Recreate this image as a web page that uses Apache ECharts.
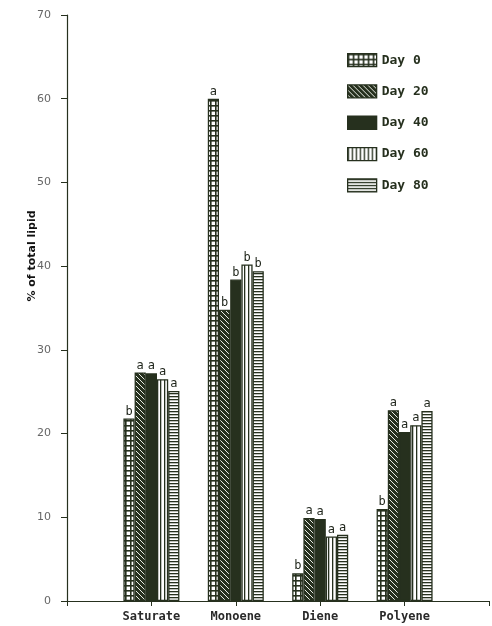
<!DOCTYPE html>
<html>
<head>
<meta charset="utf-8">
<script src="https://cdn.jsdelivr.net/npm/echarts@6/dist/echarts.min.js"></script>
<style>
  html, body { margin: 0; padding: 0; background: #fff; }
  #chart { width: 492px; height: 626px; }
</style>
</head>
<body>
<div id="chart"></div>
<script>
// Fatty acid classes (x categories)
const categories = ['Saturate', 'Monoene', 'Diene', 'Polyene'];
const dayNames = ['Day 0', 'Day 20', 'Day 40', 'Day 60', 'Day 80'];

// % of total lipid per class, one array per sampling day
const day0  = [21.8, 60.0, 3.3, 11.0];
const day20 = [27.3, 34.8, 9.9, 22.8];
const day40 = [27.2, 38.4, 9.8, 20.2];
const day60 = [26.5, 40.2, 7.7, 21.0];
const day80 = [25.1, 39.4, 7.9, 22.7];

// Significance letters above each bar
const let0  = ['b', 'a', 'b', 'b'];
const let20 = ['a', 'b', 'a', 'a'];
const let40 = ['a', 'b', 'a', 'a'];
const let60 = ['a', 'b', 'a', 'a'];
const let80 = ['a', 'b', 'a', 'a'];

const yTicks = [0, 10, 20, 30, 40, 50, 60, 70];

const INK = '#26301e';

// Fill patterns drawn onto small canvases
function tile(w, h, draw) {
  const c = document.createElement('canvas');
  c.width = w; c.height = h;
  const g = c.getContext('2d');
  draw(g, w, h);
  return { image: c, repeat: 'repeat' };
}
const patGrid = tile(5, 5, (g, w, h) => {
  g.fillStyle = '#fff'; g.fillRect(0, 0, w, h);
  g.fillStyle = INK; g.fillRect(0, 0, w, 1.6); g.fillRect(0, 0, 1.6, h);
});
const patHatch = tile(5, 5, (g, w, h) => {
  g.fillStyle = INK; g.fillRect(0, 0, w, h);
  g.strokeStyle = '#e8ece4'; g.lineWidth = 1;
  g.beginPath();
  g.moveTo(-1, -1); g.lineTo(w + 1, h + 1);
  g.moveTo(-1, -1 - h); g.lineTo(w + 1, 1);
  g.moveTo(-1 - w, -1); g.lineTo(1, h + 1);
  g.stroke();
});
const patVert = tile(4, 4, (g, w, h) => {
  g.fillStyle = '#fff'; g.fillRect(0, 0, w, h);
  g.fillStyle = INK; g.fillRect(0, 0, 1.3, h);
});
const patHorz = tile(3, 3, (g, w, h) => {
  g.fillStyle = '#fff'; g.fillRect(0, 0, w, h);
  g.fillStyle = INK; g.fillRect(0, 0, w, 1.3);
});

const values = [day0, day20, day40, day60, day80];
const letters = [let0, let20, let40, let60, let80];
const fills = [patGrid, patHatch, INK, patVert, patHorz];

// Category axis with empty end slots so the classes sit on evenly spaced ticks
const axisCats = [''].concat(categories, ['']);

const series = dayNames.map((name, i) => ({
  name: name,
  type: 'bar',
  barWidth: 11.2,
  barGap: '0%',
  data: [null].concat(values[i], [null]),
  itemStyle: { color: fills[i], borderColor: INK, borderWidth: 1.3 },
  label: {
    show: true,
    position: 'top',
    distance: 1,
    color: '#1e241a',
    fontFamily: 'DejaVu Sans Mono',
    fontSize: 12,
    formatter: p => letters[i][p.dataIndex - 1] || ''
  }
}));

const chart = echarts.init(document.getElementById('chart'));
chart.setOption({
  animation: false,
  backgroundColor: '#fff',
  grid: { left: 67, right: 3, top: 15, bottom: 25, containLabel: false },
  legend: {
    orient: 'vertical',
    left: 342,
    top: 48,
    icon: 'rect',
    itemWidth: 29,
    itemHeight: 13,
    itemGap: 17,
    itemStyle: { borderColor: INK, borderWidth: 1.3 },
    textStyle: { color: INK, fontFamily: 'DejaVu Sans Mono', fontWeight: 'bold', fontSize: 13 },
    data: dayNames
  },
  xAxis: {
    type: 'category',
    data: axisCats,
    boundaryGap: false,
    axisLine: { lineStyle: { color: INK, width: 1 } },
    axisTick: { show: true, length: 5, inside: false, lineStyle: { color: INK } },
    axisLabel: {
      interval: 0,
      margin: 10,
      color: '#2a2a2a',
      fontFamily: 'DejaVu Sans Mono',
      fontWeight: 'bold',
      fontSize: 12
    },
    splitLine: { show: false }
  },
  yAxis: {
    type: 'value',
    min: yTicks[0],
    max: yTicks[yTicks.length - 1],
    interval: 10,
    axisLine: { show: true, lineStyle: { color: INK, width: 1.2 } },
    axisTick: { show: true, length: 6, lineStyle: { color: INK } },
    axisLabel: { margin: 16, color: '#666', fontFamily: 'DejaVu Sans', fontSize: 11 },
    splitLine: { show: false }
  },
  graphic: [{
    type: 'text',
    x: 32,
    y: 256,
    rotation: Math.PI / 2,
    style: {
      text: '% of total lipid',
      fill: '#111',
      font: 'bold 11px "DejaVu Sans"',
      textAlign: 'center',
      textVerticalAlign: 'middle'
    }
  }],
  series: series
});
</script>
</body>
</html>
